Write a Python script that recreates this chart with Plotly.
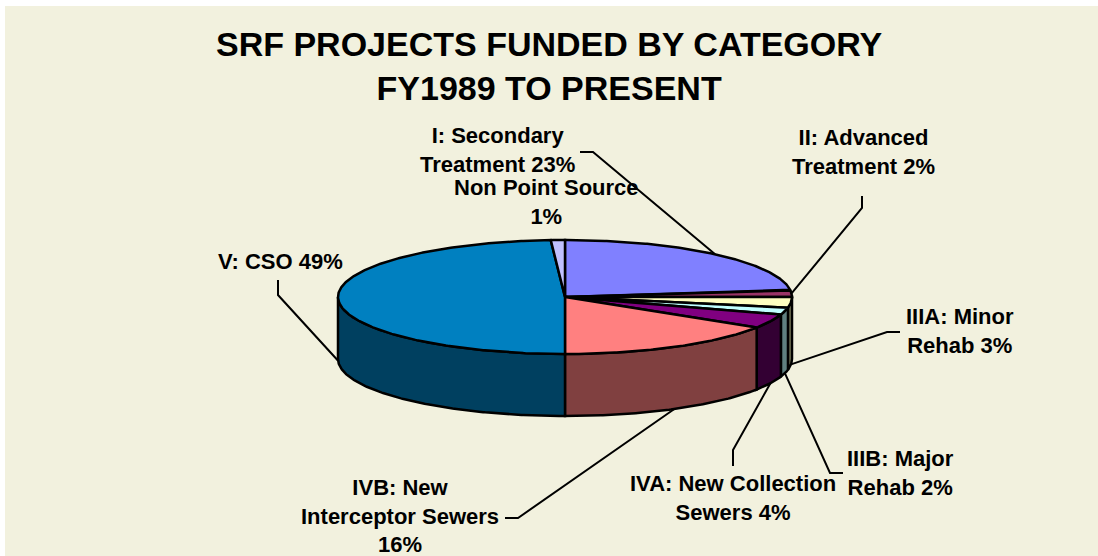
import numpy as np
import plotly.graph_objects as go

# ---------------- data ----------------
categories = ["I: Secondary Treatment", "II: Advanced Treatment", "IIIA: Minor Rehab",
              "IIIB: Major Rehab", "IVA: New Collection Sewers",
              "IVB: New Interceptor Sewers", "V: CSO", "Non Point Source"]
percents = [23, 2, 3, 2, 4, 16, 49, 1]
label_texts = ["I: Secondary<br>Treatment 23%", "II: Advanced<br>Treatment 2%",
               "IIIA: Minor<br>Rehab 3%", "IIIB: Major<br>Rehab 2%",
               "IVA: New Collection<br>Sewers 4%", "IVB: New<br>Interceptor Sewers<br>16%",
               "V: CSO 49%", "Non Point Source<br>1%"]
top_colors = ["#8080FF", "#993366", "#FFFFC0", "#C0FFFF", "#800080", "#FF8080", "#0080C0", "#C0C0FF"]
side_colors = ["#404080", "#4C1933", "#808060", "#608080", "#330033", "#804040", "#004060", "#606080"]

# ---------------- layout constants (pixel space) ----------------
BG = "#F2F1DE"
CX, CY, RX, RY, DEPTH = 565, 297, 227, 57, 62
label_pos = [(497, 150), (863, 152), (960, 331), (900, 473), (733, 498), (400, 516), (280, 261), (546, 202)]
# leader line: (label end point, elbow point) ; anchor on pie computed from data
leaders = [((580, 152), (593, 152)), ((862, 196), (862, 208)), ((900, 332), (887, 332)),
           ((843, 473), (830, 473)), ((733, 466), (733, 450)), ((505, 518), (518, 518)),
           ((278, 280), (278, 295)), None]

FONT = "Arial, Liberation Sans, sans-serif"


def pt(angle_deg, dy=0.0):
    a = np.radians(angle_deg)
    return CX + RX * np.sin(a), CY - RY * np.cos(a) + dy


fig = go.Figure()

total = sum(percents)
bounds = np.concatenate([[0], np.cumsum(percents) / total * 360.0])

# side walls (front half only: 90..270 deg)
for i in range(len(percents)):
    a0, a1 = bounds[i], bounds[i + 1]
    s, e = max(a0, 90), min(a1, 270)
    if e <= s:
        continue
    ang = np.linspace(s, e, max(3, int((e - s) * 2)))
    xt, yt = pt(ang)
    xb, yb = pt(ang[::-1], DEPTH)
    xs = np.concatenate([xt, xb, xt[:1]])
    ys = np.concatenate([yt, yb, yt[:1]])
    fig.add_trace(go.Scatter(x=xs, y=ys, mode="lines", fill="toself",
                             fillcolor=side_colors[i], line=dict(color="black", width=2.5),
                             hoverinfo="skip", showlegend=False))

# top faces
for i in range(len(percents)):
    a0, a1 = bounds[i], bounds[i + 1]
    ang = np.linspace(a0, a1, max(3, int((a1 - a0) * 2)))
    xt, yt = pt(ang)
    xs = np.concatenate([[CX], xt, [CX]])
    ys = np.concatenate([[CY], yt, [CY]])
    fig.add_trace(go.Scatter(x=xs, y=ys, mode="lines", fill="toself",
                             fillcolor=top_colors[i], line=dict(color="black", width=2.5),
                             hoverinfo="skip", showlegend=False))

# leader lines
for i, ld in enumerate(leaders):
    if ld is None:
        continue
    mid = (bounds[i] + bounds[i + 1]) / 2
    front = 90 < mid < 270
    ax, ay = pt(mid, DEPTH if front else 0)
    (x1, y1), (x2, y2) = ld
    fig.add_trace(go.Scatter(x=[x1, x2, ax], y=[y1, y2, ay], mode="lines",
                             line=dict(color="black", width=2),
                             hoverinfo="skip", showlegend=False))

annotations = []
for txt, (lx, ly) in zip(label_texts, label_pos):
    annotations.append(dict(x=lx, y=ly, xref="x", yref="y", text="<b>" + txt + "</b>",
                            showarrow=False, align="center",
                            font=dict(family=FONT, size=22, color="black")))
annotations.append(dict(x=549, y=66, xref="x", yref="y",
                        text="<b>SRF PROJECTS FUNDED BY CATEGORY<br>FY1989 TO PRESENT</b>",
                        showarrow=False, align="center",
                        font=dict(family=FONT, size=34, color="black")))

shapes = [
    dict(type="rect", xref="x", yref="y", x0=0, x1=1098, y0=0, y1=6,
         fillcolor="white", line=dict(width=0), layer="below"),
    dict(type="rect", xref="x", yref="y", x0=0, x1=5, y0=0, y1=556,
         fillcolor="white", line=dict(width=0), layer="below"),
]

fig.update_layout(
    width=1098, height=556,
    margin=dict(l=0, r=0, t=0, b=0),
    paper_bgcolor=BG, plot_bgcolor=BG,
    xaxis=dict(range=[0, 1098], visible=False, fixedrange=True),
    yaxis=dict(range=[556, 0], visible=False, fixedrange=True),
    annotations=annotations,
    shapes=shapes,
    showlegend=False,
)

fig.write_html("out.html", config={"displayModeBar": False},
               post_script=("document.body.style.margin='0';"
                            "document.body.style.overflow='hidden';"
                            "document.body.style.background='" + BG + "';"))
